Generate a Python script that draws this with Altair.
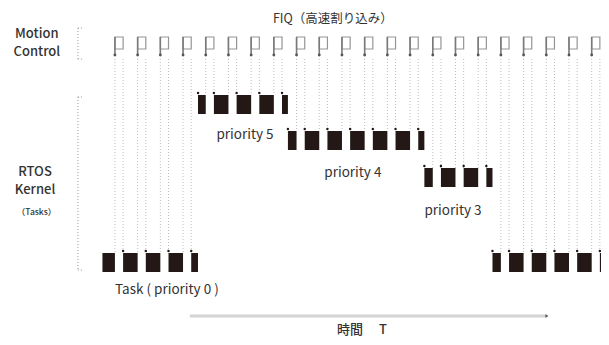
import altair as alt
import pandas as pd

# ---------------- data ----------------
FIQ_TIMES = list(range(22))                      # FIQ interrupt at every period
SEG_PRIORITY = [0, 5, 4, 3, 0]                    # running task priority
SEG_START = [-0.55, 3.66, 7.62, 13.63, 16.63]     # in FIQ periods
SEG_END = [3.66, 7.62, 13.63, 16.63, 22.6]
PULSE_WIDTH = 0.36                                # FIQ service time (periods)

TITLE_FIQ = "FIQ（高速割り込み）"
LABEL_MOTION = ["Motion", "Control"]
LABEL_RTOS = ["RTOS", "Kernel"]
LABEL_TASKS = "（Tasks）"
PRIORITY_LABELS = ["priority 5", "priority 4", "priority 3", "Task ( priority 0 )"]
TIME_LABEL = "時間　 T"

# ---------------- layout (page pixels for rows) ----------------
LANE_TOP = {5: 95, 4: 131, 3: 168, 0: 253}
LANE_H = 19
P_TOP, P_BOT, STEM_BOT, DOT_TOP = 37, 49, 55, 59
X_DOMAIN = [-4.71, 21.41]
Y_DOMAIN = [337, 8]
FONT = "Noto Sans CJK JP"
INK = "#231815"


def running(t):
    for p, s, e in zip(SEG_PRIORITY, SEG_START, SEG_END):
        if s <= t < e:
            return p
    return SEG_PRIORITY[-1]


# FIQ pulses
pulses = pd.DataFrame({
    "x": FIQ_TIMES,
    "x2": [k + PULSE_WIDTH for k in FIQ_TIMES],
})
pulses["y"] = P_TOP
pulses["y2"] = P_BOT
pulses["ys"] = STEM_BOT

# dotted drop lines
drops = []
for k in FIQ_TIMES:
    for xx in (k, k + PULSE_WIDTH):
        drops.append({"x": xx, "y": DOT_TOP, "y2": LANE_TOP[running(k)]})
drops = pd.DataFrame(drops)

# task blocks (segments cut by FIQ service)
blocks = []
for p, s, e in zip(SEG_PRIORITY, SEG_START, SEG_END):
    cur = s
    for k in FIQ_TIMES:
        a, b = k, k + PULSE_WIDTH
        if b <= cur or a >= e:
            continue
        if a > cur:
            blocks.append({"x": cur, "x2": a, "p": p})
        cur = max(cur, b)
    if cur < e:
        blocks.append({"x": cur, "x2": e, "p": p})
blocks = pd.DataFrame(blocks)
blocks["y"] = blocks["p"].map(LANE_TOP)
blocks["y2"] = blocks["y"] + LANE_H
marks_df = blocks.iloc[1:].copy()
marks_df["yd"] = marks_df["y"] - 2

# brackets
brackets = pd.DataFrame([
    {"x": -1.63, "x2": -1.63, "y": 28, "y2": 59},
    {"x": -1.63, "x2": -1.45, "y": 28, "y2": 28},
    {"x": -1.63, "x2": -1.45, "y": 59, "y2": 59},
    {"x": -1.63, "x2": -1.63, "y": 97, "y2": 270},
    {"x": -1.63, "x2": -1.45, "y": 97, "y2": 97},
    {"x": -1.63, "x2": -1.45, "y": 270, "y2": 270},
])

# time arrow
arrow = pd.DataFrame([{"x": 3.30, "x2": 19.03, "y": 316}])
arrow_end = pd.DataFrame([{"x": 19.03, "y": 316}])

# labels
labels = pd.DataFrame([
    {"x": 9.60, "y": 18.5, "t": TITLE_FIQ, "fs": 12.5, "w": 400},
    {"x": -3.44, "y": 34, "t": LABEL_MOTION[0], "fs": 13, "w": 500},
    {"x": -3.44, "y": 52, "t": LABEL_MOTION[1], "fs": 13, "w": 500},
    {"x": -3.52, "y": 172, "t": LABEL_RTOS[0], "fs": 13, "w": 500},
    {"x": -3.52, "y": 190, "t": LABEL_RTOS[1], "fs": 13, "w": 500},
    {"x": -3.45, "y": 212, "t": LABEL_TASKS, "fs": 8.5, "w": 500},
    {"x": 5.73, "y": 135, "t": PRIORITY_LABELS[0], "fs": 13.5, "w": 400},
    {"x": 10.48, "y": 173, "t": PRIORITY_LABELS[1], "fs": 13.5, "w": 400},
    {"x": 14.89, "y": 211, "t": PRIORITY_LABELS[2], "fs": 13.5, "w": 400},
    {"x": 2.29, "y": 290, "t": PRIORITY_LABELS[3], "fs": 13.5, "w": 400},
    {"x": 10.88, "y": 330, "t": TIME_LABEL, "fs": 13, "w": 500},
])

xs = alt.Scale(domain=X_DOMAIN, nice=False, zero=False)
ys = alt.Scale(domain=Y_DOMAIN, nice=False, zero=False)


def X(f):
    return alt.X(f, type="quantitative", scale=xs, axis=None)


def Y(f):
    return alt.Y(f, type="quantitative", scale=ys, axis=None)


drop_layer = alt.Chart(drops).mark_rule(
    color="#bdbdbd", strokeWidth=1, strokeDash=[1, 2], clip=True
).encode(x=X("x"), y=Y("y"), y2="y2")

pulse_rect = alt.Chart(pulses).mark_rect(
    fill=None, stroke="#959595", strokeWidth=1.2, clip=True
).encode(x=X("x"), x2="x2", y=Y("y"), y2="y2")

pulse_stem = alt.Chart(pulses).mark_rule(
    color="#7a7a7a", strokeWidth=1.6, clip=True
).encode(x=X("x"), y=Y("y"), y2="ys")

pulse_dot = alt.Chart(pulses).mark_circle(
    color="#555555", size=8, opacity=1, clip=True
).encode(x=X("x"), y=Y("ys"))

block_layer = alt.Chart(blocks).mark_rect(color=INK, clip=True).encode(
    x=X("x"), x2="x2", y=Y("y"), y2="y2"
)

block_dots = alt.Chart(marks_df).mark_circle(
    color=INK, size=6, opacity=1, clip=True
).encode(x=X("x"), y=Y("yd"))

bracket_layer = alt.Chart(brackets).mark_rule(
    color="#9a9a9a", strokeWidth=1, strokeDash=[1, 2]
).encode(x=X("x"), x2="x2", y=Y("y"), y2="y2")

arrow_layer = alt.Chart(arrow).mark_rule(
    color="#d4d4d4", strokeWidth=3
).encode(x=X("x"), x2="x2", y=Y("y"))

arrow_end_layer = alt.Chart(arrow_end).mark_point(
    shape="triangle-right", filled=True, color="#555555", size=12, opacity=1
).encode(x=X("x"), y=Y("y"))

text_bold = alt.Chart(labels[labels["w"] == 500]).mark_text(
    font=FONT, color="#333333", align="center", baseline="middle", fontWeight=500
).encode(
    x=X("x"), y=Y("y"), text="t:N",
    size=alt.Size("fs:Q", scale=None, legend=None),
)

text_reg = alt.Chart(labels[labels["w"] == 400]).mark_text(
    font=FONT, color="#333333", align="center", baseline="middle", fontWeight=400
).encode(
    x=X("x"), y=Y("y"), text="t:N",
    size=alt.Size("fs:Q", scale=None, legend=None),
)

chart = alt.layer(
    drop_layer, bracket_layer, pulse_rect, pulse_stem, pulse_dot,
    block_layer, block_dots, arrow_layer, arrow_end_layer, text_bold, text_reg,
).properties(
    width=593, height=329, padding=0, autosize="none", background="white"
).configure_view(stroke=None)

chart.save("out.html", embed_options={"renderer": "svg", "actions": False})
